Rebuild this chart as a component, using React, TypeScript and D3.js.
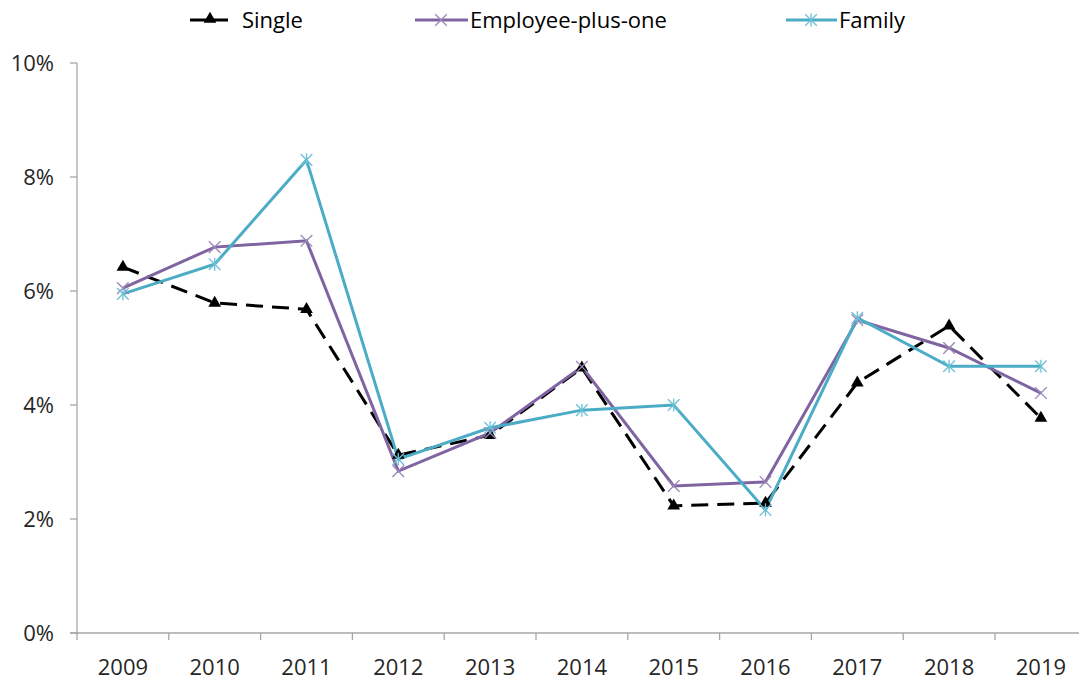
import React from "react";
import * as d3 from "d3";

const years = ["2009","2010","2011","2012","2013","2014","2015","2016","2017","2018","2019"];
const single = [6.42, 5.79, 5.68, 3.12, 3.47, 4.65, 2.23, 2.28, 4.39, 5.39, 3.77];
const employeePlusOne = [6.05, 6.77, 6.88, 2.84, 3.51, 4.67, 2.58, 2.65, 5.49, 5.0, 4.21];
const family = [5.95, 6.47, 8.30, 3.05, 3.60, 3.91, 4.00, 2.16, 5.53, 4.68, 4.68];
const yTicks = [0, 2, 4, 6, 8, 10];

const W = 1079, H = 681;
const left = 77, top = 63, bottom = 633;
const step = 91.8;
const FONT = "'Open Sans', sans-serif";
const FS = 22;

export default function App() {
  const x = d3.scaleBand<string>().domain(years).range([left, left + step * years.length]);
  const y = d3.scaleLinear().domain([0, 10]).range([bottom, top]);
  const cx = (yr: string) => (x(yr) as number) + x.bandwidth() / 2;
  const line = (vals: number[]) =>
    d3.line<number>().x((_, i) => cx(years[i])).y((v) => y(v))(vals) as string;

  const tri = d3.symbol().type(d3.symbolTriangle).size(70)() as string;
  const xs = d3.symbol().type(d3.symbolX).size(90)() as string;

  const purple = "#8064A2";
  const teal = "#4BACC6";

  const asterisk = (key: string, px: number, py: number, color: string) => (
    <g key={key} transform={`translate(${px},${py})`} stroke={color} strokeWidth={1.3} fill="none">
      <path d={xs} />
      <line x1={0} y1={-6.5} x2={0} y2={6.5} />
    </g>
  );

  return (
    <svg width={W} height={H} style={{ position: "absolute", left: 0, top: 0, background: "#fff" }}>
      {/* y axis */}
      <line x1={left} y1={top} x2={left} y2={bottom} stroke="#a6a6a6" strokeWidth={1.3} />
      {yTicks.map((t) => (
        <g key={t}>
          <line x1={left - 7} x2={left} y1={y(t)} y2={y(t)} stroke="#a6a6a6" strokeWidth={1.3} />
          <text x={left - 23} y={y(t)} dy="0.36em" textAnchor="end" fontFamily={FONT} fontSize={FS} fill="#262626">
            {t}%
          </text>
        </g>
      ))}
      {/* x axis */}
      <line x1={left - 7} x2={W} y1={bottom} y2={bottom} stroke="#a6a6a6" strokeWidth={1.3} />
      {years.map((yr) => (
        <line key={"t" + yr} x1={x(yr) as number} x2={x(yr) as number} y1={bottom} y2={bottom + 7} stroke="#a6a6a6" strokeWidth={1.3} />
      ))}
      {years.map((yr) => (
        <text key={"l" + yr} x={cx(yr)} y={bottom + 42} textAnchor="middle" fontFamily={FONT} fontSize={FS} fill="#262626">
          {yr}
        </text>
      ))}

      {/* lines */}
      <path d={line(single)} fill="none" stroke="#000" strokeWidth={3} strokeDasharray="17,9" />
      <path d={line(employeePlusOne)} fill="none" stroke={purple} strokeWidth={3} />
      <path d={line(family)} fill="none" stroke={teal} strokeWidth={3} />

      {/* markers */}
      {single.map((v, i) => (
        <path key={"s" + i} d={tri} transform={`translate(${cx(years[i])},${y(v)})`} fill="#000" />
      ))}
      {employeePlusOne.map((v, i) => (
        <path key={"e" + i} d={xs} transform={`translate(${cx(years[i])},${y(v)})`} stroke="#9b86b8" strokeWidth={1.3} fill="none" />
      ))}
      {family.map((v, i) => asterisk("f" + i, cx(years[i]), y(v), "#6cc0d6"))}

      {/* legend */}
      <g>
        <line x1={190} x2={228} y1={20} y2={20} stroke="#000" strokeWidth={3} />
        <path d={tri} transform="translate(210,19)" fill="#000" />
        <text x={242} y={20} dy="0.36em" fontFamily={FONT} fontSize={FS} fill="#000">Single</text>

        <line x1={415} x2={468} y1={20} y2={20} stroke={purple} strokeWidth={3} />
        <path d={xs} transform="translate(441,20)" stroke="#9b86b8" strokeWidth={1.3} fill="none" />
        <text x={470} y={20} dy="0.36em" fontFamily={FONT} fontSize={FS} fill="#000">Employee-plus-one</text>

        <line x1={786} x2={837} y1={20} y2={20} stroke={teal} strokeWidth={3} />
        {asterisk("leg", 811, 20, "#6cc0d6")}
        <text x={839} y={20} dy="0.36em" fontFamily={FONT} fontSize={FS} fill="#000">Family</text>
      </g>
    </svg>
  );
}
